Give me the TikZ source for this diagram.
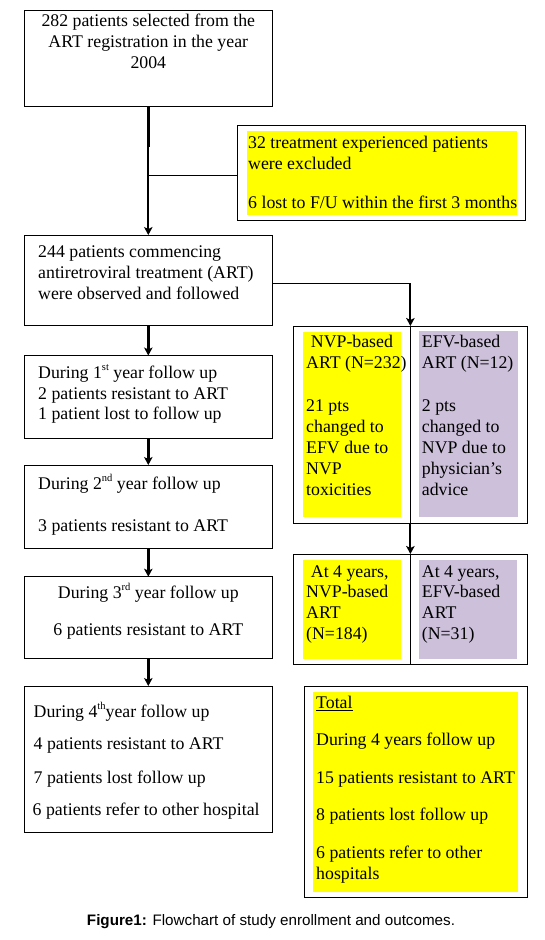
\documentclass[tikz,border=0pt]{standalone}
\usepackage{fontspec}
\setmainfont{Liberation Serif}
\newfontfamily\capfam{Liberation Sans}
\usetikzlibrary{arrows.meta}
\definecolor{hlyellow}{RGB}{255,255,0}
\definecolor{hlpurple}{RGB}{204,192,218}
\newcommand\mainf{\fontsize{17.8}{20.7}\selectfont}
\newcommand\supx[1]{\raisebox{0.42em}{\fontsize{10.5}{10}\selectfont #1}}
\begin{document}
\begin{tikzpicture}[x=1pt,y=-1pt,
  box/.style={draw=black, line width=1pt, inner sep=0pt, outer sep=0pt},
  hl/.style={inner sep=0pt, outer sep=0pt, draw=none},
  tl/.style={font=\mainf, inner sep=0pt, anchor=base west},
  tc/.style={font=\mainf, inner sep=0pt, anchor=base},
  arr/.style={-{Stealth[length=8pt,width=8.5pt,inset=2pt]}, line width=2.4pt},
  thinline/.style={line width=1pt},
  thickline/.style={line width=3.2pt}]
\useasboundingbox (0,0) rectangle (544,940);

% ---- boxes ----
\node[box, minimum width=248pt, minimum height=96.7pt] (b1) at (148.3,58.35) {};
\node[hl, fill=hlyellow, minimum width=270pt, minimum height=84pt] (ey) at (382,173) {};
\node[box, minimum width=287.9pt, minimum height=95.7pt] (ex) at (381.65,172.85) {};
\node[box, minimum width=248pt, minimum height=90.7pt] (b2) at (148.3,280.35) {};
\node[box, minimum width=248pt, minimum height=82.8pt] (b3) at (148.3,396.9) {};
\node[box, minimum width=248pt, minimum height=83.3pt] (b4) at (148.3,506.65) {};
\node[box, minimum width=248pt, minimum height=81.6pt] (b5) at (148.3,617.5) {};
\node[box, minimum width=248pt, minimum height=146.3pt] (b6) at (148.3,759.15) {};

\node[hl, fill=hlyellow, minimum width=98pt, minimum height=185.5pt] (nvy) at (351.7,424.25) {};
\node[hl, fill=hlpurple, minimum width=98.4pt, minimum height=186.3pt] (efy) at (468.5,424.15) {};
\node[box, minimum width=233.8pt, minimum height=197pt] (nv) at (410.4,424.5) {};

\node[hl, fill=hlyellow, minimum width=98pt, minimum height=99pt] (a4y) at (351.7,609.5) {};
\node[hl, fill=hlpurple, minimum width=97.4pt, minimum height=99pt] (a4p) at (468,609.5) {};
\node[box, minimum width=233.8pt, minimum height=110pt] (a4) at (410.4,609) {};

\node[hl, fill=hlyellow, minimum width=205pt, minimum height=200pt] (toty) at (415.2,791.7) {};
\node[box, minimum width=223pt, minimum height=211.3pt] (tot) at (415.8,791.65) {};

% ---- texts ----
\node[tc] (t1a) at (148.3,26) {282 patients selected from the};
\node[tc] (t1b) at (148.3,47.3) {ART registration in the year};
\node[tc] (t1c) at (148.3,68.5) {2004};

\node[tl] (tea) at (248,148.5) {32 treatment experienced patients};
\node[tl] (teb) at (248,169.2) {were excluded};
\node[tl] (tec) at (248,208) {6 lost to F/U within the first 3 months};

\node[tl] (t2a) at (38,257.8) {244 patients commencing};
\node[tl] (t2b) at (38,278.8) {antiretroviral treatment (ART)};
\node[tl] (t2c) at (38,299.8) {were observed and followed};

\node[tl] (t3a) at (38,378.3) {During 1\supx{st} year follow up};
\node[tl] (t3b) at (38,399) {2 patients resistant to ART};
\node[tl] (t3c) at (38,419.5) {1 patient lost to follow up};

\node[tl] (t4a) at (38,489.3) {During 2\supx{nd} year follow up};
\node[tl] (t4b) at (38,531.7) {3 patients resistant to ART};

\node[tc] (t5a) at (148.3,598.3) {During 3\supx{rd} year follow up};
\node[tc] (t5b) at (148.3,635) {6 patients resistant to ART};

\node[tl] (t6a) at (33.5,717.3) {During 4\supx{th}year follow up};
\node[tl] (t6b) at (33.5,749.3) {4 patients resistant to ART};
\node[tl] (t6c) at (33.5,783.3) {7 patients lost follow up};
\node[tl] (t6d) at (32.5,815) {6 patients refer to other hospital};

\node[tl] (tna) at (310.7,347.3) {NVP-based};
\node[tl] (tnb) at (306,368.3) {ART (N=232)};
\node[tl] (tnc) at (306,411.7) {21 pts};
\node[tl] (tnd) at (306,432.3) {changed to};
\node[tl] (tne) at (306,453.3) {EFV due to};
\node[tl] (tnf) at (306,474) {NVP};
\node[tl] (tng) at (306,495.7) {toxicities};

\node[tl] (tfa) at (421.7,347.3) {EFV-based};
\node[tl] (tfb) at (421.7,368.3) {ART (N=12)};
\node[tl] (tfc) at (421.7,411.7) {2 pts};
\node[tl] (tfd) at (421.7,432.3) {changed to};
\node[tl] (tfe) at (421.7,453.3) {NVP due to};
\node[tl] (tff) at (421.7,474) {physician’s};
\node[tl] (tfg) at (421.7,495.7) {advice};

\node[tl] (tga) at (310.7,577.3) {At 4 years,};
\node[tl] (tgb) at (306,597.3) {NVP-based};
\node[tl] (tgc) at (306,618.3) {ART};
\node[tl] (tgd) at (306,639.5) {(N=184)};

\node[tl] (tha) at (421.7,577.3) {At 4 years,};
\node[tl] (thb) at (421.7,597.3) {EFV-based};
\node[tl] (thc) at (421.7,618.3) {ART};
\node[tl] (thd) at (421.7,639.5) {(N=31)};

\node[tl] (tta) at (316,708.3) {\underline{Total}};
\node[tl] (ttb) at (316,745.7) {During 4 years follow up};
\node[tl] (ttc) at (316,783.3) {15 patients resistant to ART};
\node[tl] (ttd) at (316,820) {8 patients lost follow up};
\node[tl] (tte) at (316,858.3) {6 patients refer to other};
\node[tl] (ttf) at (316,879.3) {hospitals};

\node[font=\capfam\fontsize{15.2}{18}\selectfont, inner sep=0pt, anchor=base] (cap) at (271,925)
  {\textbf{Figure1:} Flowchart of study enrollment and outcomes.};

% ---- connectors ----
\coordinate (j1) at (148.3,146.7);
\coordinate (j2) at (148.3,175);
\coordinate (k1) at (272.3,283.3);
\coordinate (k2) at (410.4,283.3);
\draw[thickline] (b1.south) -- (j1);
\draw[arr, line width=1.9pt] (j1) -- (b2.north);
\draw[thinline] (j2) -- (j2 -| ex.west);
\draw[arr] (b2.south) -- (b3.north);
\draw[arr] (b3.south) -- (b4.north);
\draw[arr] (b4.south) -- (b5.north);
\draw[arr] (b5.south) -- (b6.north);
\draw[thinline] (k1) -- (k2);
\draw[arr, line width=2pt] (k2) -- (nv.north);
\draw[thinline] (nv.north) -- (nv.south);
\draw[arr, line width=2pt] (nv.south) -- (a4.north);
\draw[thinline] (a4.north) -- (a4.south);
\end{tikzpicture}
\end{document}
